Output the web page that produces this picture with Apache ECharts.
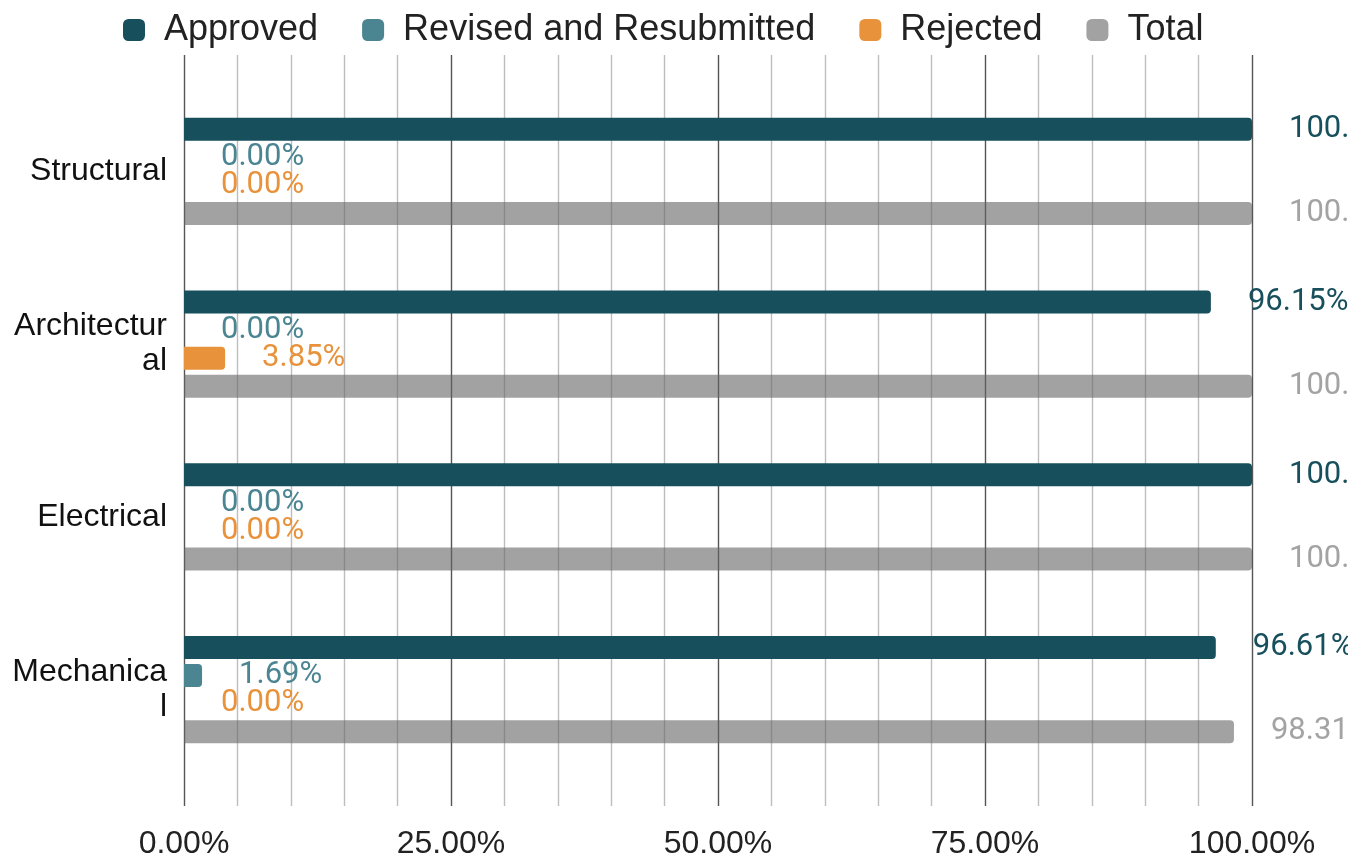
<!DOCTYPE html>
<html>
<head>
<meta charset="utf-8">
<script src="https://cdn.jsdelivr.net/npm/echarts@6/dist/echarts.min.js"></script>
<style>
html,body{margin:0;padding:0;background:#fff;}
#main{width:1348px;height:862px;}
</style>
</head>
<body>
<div id="main"></div>
<script>
var categories = ['Structural', 'Architectural', 'Electrical', 'Mechanical'];
var approved = [100, 96.15, 100, 96.61];
var revised = [0, 0, 0, 1.69];
var rejected = [0, 3.85, 0, 0];
var total = [100, 100, 100, 98.31];
var seriesNames = ['Approved', 'Revised and Resubmitted', 'Rejected', 'Total'];
var colors = ['#174f5c', '#4b8592', '#e8923b', '#a3a3a3'];

function pct(v){
	return Number(v).toFixed(2) + '%';
}

//bar series
function makeSeries(name, data, color, fill){
	return {
		name: name,
		type: 'bar',
		xAxisIndex: 1,
		yAxisIndex: 1,
		barWidth: 23,
		barGap: '22%',
		data: data,
		itemStyle: {color: fill || color, borderRadius: [0, 4, 4, 0]},
		label: {
			show: true,
			position: 'right',
			distance: 37,
			fontFamily: 'Roboto',
			fontSize: 31,
			color: color,
			formatter: function(p){ return pct(p.value); }
		}
	};
}

var myChart = echarts.init(document.getElementById('main'));
var option = {
	animation: false,
	color: colors,
	legend: {
		top: 5,
		left: 118,
		itemWidth: 22,
		itemHeight: 22,
		itemGap: 44,
		icon: 'roundRect',
		textStyle: {fontFamily: 'Liberation Sans', fontSize: 36, color: '#222', padding: [0, 0, 0, 14], lineHeight: 40},
		data: seriesNames
	},
	grid: [
		{left: 184, right: 96, top: 55, bottom: 56},
		{left: 184, right: 96, top: 85, bottom: 86}
	],
	xAxis: [
		{
			type: 'value', gridIndex: 0, min: 0, max: 100, interval: 25,
			axisLine: {show: false},
			axisTick: {show: false},
			axisLabel: {fontFamily: 'Liberation Sans', fontSize: 32, color: '#222', margin: 22, formatter: pct},
			splitLine: {lineStyle: {color: '#555', width: 1.4}},
			minorTick: {show: false, splitNumber: 5},
			minorSplitLine: {show: true, lineStyle: {color: '#bdbdbd', width: 1.4}}
		},
		{type: 'value', gridIndex: 1, min: 0, max: 100, show: false}
	],
	yAxis: [
		{type: 'value', gridIndex: 0, show: false},
		{
			type: 'category', gridIndex: 1, inverse: true, data: categories,
			axisLine: {show: false},
			axisTick: {show: false},
			axisLabel: {
				fontFamily: 'Liberation Sans', fontSize: 32, color: '#111', margin: 17,
				width: 158, overflow: 'breakAll', lineHeight: 35
			}
		}
	],
	series: [
		makeSeries(seriesNames[0], approved, colors[0]),
		makeSeries(seriesNames[1], revised, colors[1]),
		makeSeries(seriesNames[2], rejected, colors[2]),
		makeSeries(seriesNames[3], total, colors[3], 'rgba(100,100,100,0.6)')
	]
};
myChart.setOption(option);
</script>
</body>
</html>
